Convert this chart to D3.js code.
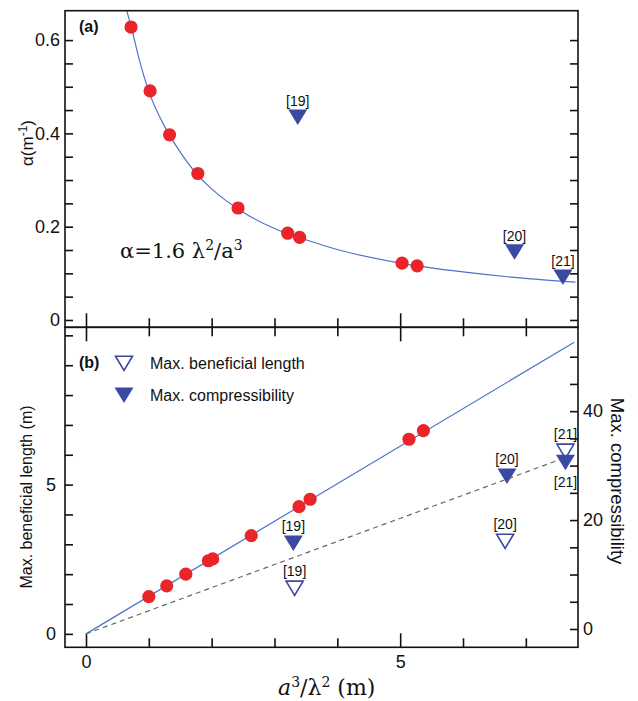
<!DOCTYPE html>
<html>
<head>
<meta charset="utf-8">
<script src="https://cdn.jsdelivr.net/npm/d3@7"></script>
<style>
  body { margin: 0; background: #fff; }
  text { font-family: "Liberation Sans", Arial, sans-serif; fill: #111; }
  .serif { font-family: "DejaVu Serif", "Liberation Serif", serif; }
</style>
</head>
<body>
<div id="chart"></div>
<script>
// ---- data ----
// panel (a): measured attenuation
const alphaX = [0.717, 1.02, 1.33, 1.78, 2.42, 3.21, 3.40, 5.03, 5.27];
const alphaVal = [0.628, 0.491, 0.397, 0.314, 0.24, 0.186, 0.177, 0.122, 0.116];
// fitted curve alpha = 1.6 lambda^2/a^3, sampled from the figure
const curveX = [0.648, 0.72, 0.85, 1.0, 1.25, 1.5, 1.75, 2.0, 2.5, 3.0, 3.5, 4.0, 5.0, 6.0, 7.0, 7.79];
const curveVal = [0.663, 0.628, 0.557, 0.49, 0.415, 0.36, 0.315, 0.281, 0.231, 0.196, 0.172, 0.151, 0.122, 0.103, 0.089, 0.081];
// literature references in panel (a)
const refNames = ["[19]", "[20]", "[21]"];
const refX = [3.37, 6.82, 7.59];
const refAlpha = [0.435, 0.146, 0.092];

// panel (b): max beneficial length
const lenX = [1.00, 1.285, 1.588, 1.948, 2.017, 2.63, 3.39, 3.567, 5.14, 5.37];
const lenVal = [1.25, 1.61, 2.0, 2.45, 2.51, 3.29, 4.26, 4.51, 6.52, 6.81];
const fitLen = [[0, 0], [7.77, 9.77]];
const fitComp = [[0, 0], [7.70, 5.96]];
// references in panel (b)
const benefX = [3.32, 6.67, 7.63];
const benefVal = [1.54, 3.11, 6.13];
const benefLabelPos = ["above", "above", "above"];
const compX = [3.30, 6.70, 7.63];
const compVal = [15.8, 28.1, 30.6];
const compLabelPos = ["above", "above", "below"];

// ---- layout ----
const W = 638, H = 701;
const L = 65, R = 578, T = 10.7, M = 327.3, B = 647.3;
const red = "#ea2428", blue = "#3a49a2", lineBlue = "#4f73c9";

const svg = d3.select("#chart").append("svg").attr("width", W).attr("height", H);

const x = d3.scaleLinear().domain([-0.334, 7.83]).range([L, R]);
const yA = d3.scaleLinear().domain([-0.0157, 0.663]).range([M, T]);
const yL = d3.scaleLinear().domain([-0.45, 10.27]).range([B, M]);
const yR = d3.scaleLinear().domain([-3.36, 55.4]).range([B, M]);

svg.append("clipPath").attr("id", "clipA").append("rect")
  .attr("x", L).attr("y", T).attr("width", R - L).attr("height", M - T);

const tri = "M-9.5,-7.5L9.5,-7.5L0,8Z";
const xTicks = d3.range(0, 8);

function styleAxis(g, fs) {
  g.select(".domain").remove();
  g.selectAll(".tick line").attr("stroke", "#111").attr("stroke-width", 1.6);
  g.selectAll(".tick text").style("font-size", fs + "px").attr("fill", "#111")
    .style("font-family", '"Liberation Sans", Arial, sans-serif');
}

// ---- panel (a) ----
const gAL = svg.append("g").attr("transform", "translate(" + L + ",0)")
  .call(d3.axisLeft(yA).tickValues(d3.range(0, 13).map(i => i * 0.05)).tickSize(-8).tickPadding(5)
    .tickFormat((d, i) => i % 4 == 0 ? (i == 0 ? "0" : d.toFixed(1)) : ""));
styleAxis(gAL, 18);
const gAR = svg.append("g").attr("transform", "translate(" + R + ",0)")
  .call(d3.axisRight(yA).tickValues(d3.range(0, 13).map(i => i * 0.05)).tickSize(-8).tickFormat(""));
styleAxis(gAR, 18);
const gAB = svg.append("g").attr("transform", "translate(0," + M + ")")
  .call(d3.axisBottom(x).tickValues(xTicks).tickSize(-9).tickFormat(""));
styleAxis(gAB, 18);
gAB.selectAll(".tick line").attr("y2", d => d % 5 == 0 ? -14 : -9);

const curveLine = d3.line().x((d, i) => x(curveX[i])).y(d => yA(d)).curve(d3.curveMonotoneX);
svg.append("path").datum(curveVal)
  .attr("clip-path", "url(#clipA)")
  .attr("d", curveLine)
  .attr("fill", "none").attr("stroke", lineBlue).attr("stroke-width", 1.2);

svg.append("g").selectAll("circle").data(alphaVal).enter().append("circle")
  .attr("cx", (d, i) => x(alphaX[i])).attr("cy", d => yA(d)).attr("r", 6.6)
  .attr("fill", red);

const refA = svg.append("g").selectAll("g").data(refNames).enter().append("g")
  .attr("transform", (d, i) => "translate(" + x(refX[i]) + "," + yA(refAlpha[i]) + ")");
refA.append("path").attr("d", tri).attr("fill", blue);
refA.append("text").attr("y", -11).attr("text-anchor", "middle").style("font-size", "14px").text(d => d);

svg.append("text").attr("x", 79).attr("y", 32).style("font-weight", "bold").style("font-size", "16px").text("(a)");

const formula = svg.append("text").attr("class", "serif").attr("x", 120).attr("y", 258).style("font-size", "21px");
formula.append("tspan").text("\u03b1=1.6 \u03bb");
formula.append("tspan").attr("dy", -8).style("font-size", "14px").text("2");
formula.append("tspan").attr("dy", 8).text("/a");
formula.append("tspan").attr("dy", -8).style("font-size", "14px").text("3");

const yLabA = svg.append("text").attr("transform", "translate(33,143) rotate(-90)")
  .attr("text-anchor", "middle").style("font-size", "17px");
yLabA.append("tspan").text("\u03b1(m");
yLabA.append("tspan").attr("dy", -6).style("font-size", "12px").text("-1");
yLabA.append("tspan").attr("dy", 6).text(")");

// ---- panel (b) ----
const gBL = svg.append("g").attr("transform", "translate(" + L + ",0)")
  .call(d3.axisLeft(yL).tickValues(d3.range(0, 11)).tickSize(-8).tickPadding(9)
    .tickFormat(d => d == 0 || d == 5 ? d : ""));
styleAxis(gBL, 18);
const gBR = svg.append("g").attr("transform", "translate(" + R + ",0)")
  .call(d3.axisRight(yR).tickValues(d3.range(0, 51, 5)).tickSize(-8).tickPadding(5)
    .tickFormat(d => d % 20 == 0 ? d : ""));
styleAxis(gBR, 18);
const gBT = svg.append("g").attr("transform", "translate(0," + M + ")")
  .call(d3.axisTop(x).tickValues(xTicks).tickSize(-9).tickFormat(""));
styleAxis(gBT, 18);
gBT.selectAll(".tick line").attr("y2", d => d % 5 == 0 ? 14 : 9);
const gBB = svg.append("g").attr("transform", "translate(0," + B + ")")
  .call(d3.axisBottom(x).tickValues(xTicks).tickSize(-9).tickPadding(8)
    .tickFormat(d => d % 5 == 0 ? d : ""));
styleAxis(gBB, 18);
gBB.selectAll(".tick line").attr("y2", d => d % 5 == 0 ? -14 : -9);

const straight = d3.line().x(d => x(d[0])).y(d => yL(d[1]));
svg.append("path").datum(fitComp).attr("d", straight)
  .attr("fill", "none").attr("stroke", "#666").attr("stroke-width", 1.2).attr("stroke-dasharray", "5,4");
svg.append("path").datum(fitLen).attr("d", straight)
  .attr("fill", "none").attr("stroke", lineBlue).attr("stroke-width", 1.2);

svg.append("g").selectAll("circle").data(lenVal).enter().append("circle")
  .attr("cx", (d, i) => x(lenX[i])).attr("cy", d => yL(d)).attr("r", 6.6)
  .attr("fill", red);

const openTri = "M-8.5,-6.8L8.5,-6.8L0,7.5Z";
const benef = svg.append("g").selectAll("g").data(benefVal).enter().append("g")
  .attr("transform", (d, i) => "translate(" + x(benefX[i]) + "," + yL(d) + ")");
benef.append("path").attr("d", openTri).attr("fill", "#fff").attr("stroke", blue).attr("stroke-width", 1.6);
benef.append("text").attr("y", (d, i) => benefLabelPos[i] == "above" ? -12 : 23)
  .attr("text-anchor", "middle").style("font-size", "14px").text((d, i) => refNames[i]);

const comp = svg.append("g").selectAll("g").data(compVal).enter().append("g")
  .attr("transform", (d, i) => "translate(" + x(compX[i]) + "," + yR(d) + ")");
comp.append("path").attr("d", tri).attr("fill", blue);
comp.append("text").attr("y", (d, i) => compLabelPos[i] == "above" ? -12 : 25)
  .attr("text-anchor", "middle").style("font-size", "14px").text((d, i) => refNames[i]);

svg.append("text").attr("x", 79).attr("y", 368).style("font-weight", "bold").style("font-size", "16px").text("(b)");

// legend
const legendItems = ["Max. beneficial length", "Max. compressibility"];
const lg = svg.append("g").selectAll("g").data(legendItems).enter().append("g")
  .attr("transform", (d, i) => "translate(124," + (363 + i * 32) + ")");
lg.append("path").attr("d", (d, i) => i == 0 ? openTri : tri)
  .attr("fill", (d, i) => i == 0 ? "#fff" : blue)
  .attr("stroke", (d, i) => i == 0 ? blue : "none").attr("stroke-width", 1.6);
lg.append("text").attr("x", 26).attr("y", 6).style("font-size", "16px").text(d => d);

svg.append("text").attr("transform", "translate(32,497) rotate(-90)")
  .attr("text-anchor", "middle").style("font-size", "16px").text("Max. beneficial length (m)");
svg.append("text").attr("transform", "translate(611,481) rotate(90)")
  .attr("text-anchor", "middle").style("font-size", "18.5px").text("Max. compressibility");

const xLab = svg.append("text").attr("class", "serif").attr("x", 278).attr("y", 695).style("font-size", "22px");
xLab.append("tspan").style("font-style", "italic").text("a");
xLab.append("tspan").attr("dy", -8).style("font-size", "14px").text("3");
xLab.append("tspan").attr("dy", 8).text("/\u03bb");
xLab.append("tspan").attr("dy", -8).style("font-size", "14px").text("2");
xLab.append("tspan").attr("dy", 8).text(" (m)");

// frames
svg.append("rect").attr("x", L).attr("y", T).attr("width", R - L).attr("height", M - T)
  .attr("fill", "none").attr("stroke", "#111").attr("stroke-width", 1.6);
svg.append("rect").attr("x", L).attr("y", M).attr("width", R - L).attr("height", B - M)
  .attr("fill", "none").attr("stroke", "#111").attr("stroke-width", 1.6);
</script>
</body>
</html>
